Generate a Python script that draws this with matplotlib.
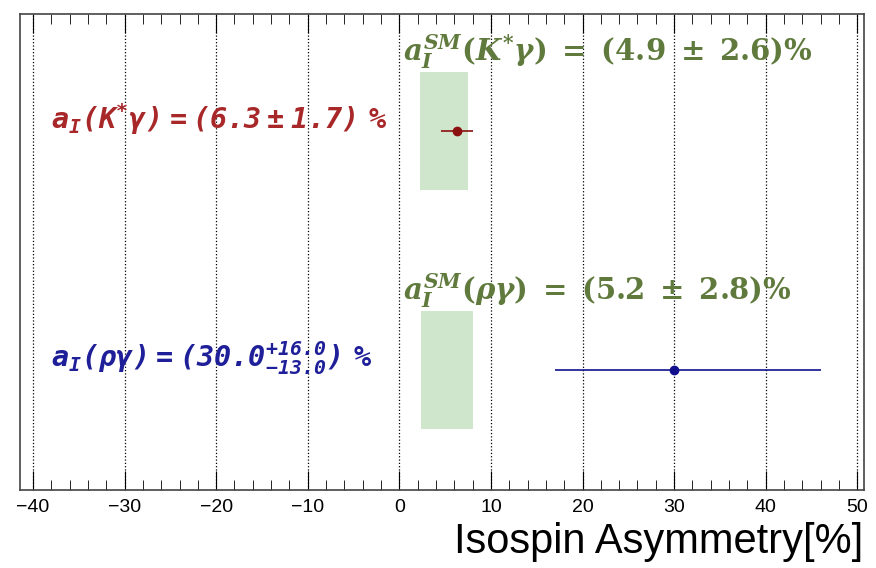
import matplotlib
matplotlib.use('Agg')
import matplotlib.pyplot as plt
from matplotlib.ticker import MultipleLocator

# measured asymmetries [%]: central value, lower error, upper error
meas_names = ['Kstgamma', 'rhogamma']
meas_val = [6.3, 30.0]
meas_lo = [1.7, 13.0]
meas_hi = [1.7, 16.0]
meas_colors = ['#8b1010', '#10108f']
meas_labels = [r'$\mathtt{a_I(K^{*}\gamma)=(6.3\pm1.7)\ \%}$',
               r'$\mathtt{a_I(\rho\gamma)=(30.0^{+16.0}_{-13.0})\ \%}$']
label_colors = ['#a8282a', '#1f1f9a']

# standard model predictions [%]
sm_val = [4.9, 5.2]
sm_err = [2.6, 2.8]
sm_labels = [r'$a_I^{SM}(K^{*}\gamma)\;=\;(4.9\;\pm\;2.6)\%$',
             r'$a_I^{SM}(\rho\gamma)\;=\;(5.2\;\pm\;2.8)\%$']

# vertical row positions (arbitrary units)
rows = [0.754, 0.252]

plt.rcParams['mathtext.fontset'] = 'custom'
plt.rcParams['mathtext.it'] = 'DejaVu Serif:italic:bold'
plt.rcParams['mathtext.rm'] = 'DejaVu Serif:bold'
plt.rcParams['mathtext.tt'] = 'DejaVu Sans Mono:bold:italic'

fig = plt.figure(figsize=(8.76, 5.68), dpi=100)
ax = fig.add_axes([0.023, 0.137, 0.963, 0.838])

for i in range(2):
    # SM band
    ax.fill_between([sm_val[i] - sm_err[i], sm_val[i] + sm_err[i]],
                    rows[i] - 0.124, rows[i] + 0.124,
                    color='#cfe5cc', linewidth=0, zorder=1)
    ax.text(0.4, rows[i] + 0.126, sm_labels[i], color='#5f7a3c',
            fontsize=21, ha='left', va='bottom', zorder=3)
    # measurement
    ax.errorbar(meas_val[i], rows[i],
                xerr=[[meas_lo[i]], [meas_hi[i]]],
                fmt='o', color=meas_colors[i], markersize=6,
                elinewidth=1.2, capsize=0, zorder=4)
    ax.text(-38.0, rows[i] + 0.025, meas_labels[i], color=label_colors[i],
            fontsize=20.5, ha='left', va='center', zorder=3)

ax.set_xlim(-41.4, 50.7)
ax.set_ylim(0, 1)
ax.xaxis.set_major_locator(MultipleLocator(10))
ax.xaxis.set_minor_locator(MultipleLocator(2))
ax.tick_params(axis='x', which='major', direction='in', length=14,
               top=True, labelsize=14, pad=6)
ax.tick_params(axis='x', which='minor', direction='in', length=7, top=True)
ax.set_yticks([])
for lbl in ax.get_xticklabels():
    lbl.set_family('Liberation Sans')
for sp in ax.spines.values():
    sp.set_color('#444444')
    sp.set_linewidth(1.2)
ax.grid(axis='x', which='major', linestyle=':', color='black', linewidth=0.9)

ax.set_xlabel('Isospin Asymmetry[%]', fontsize=30, family='Liberation Sans',
              ha='right', x=1.0, labelpad=5)

fig.savefig('out.png', dpi=100)
